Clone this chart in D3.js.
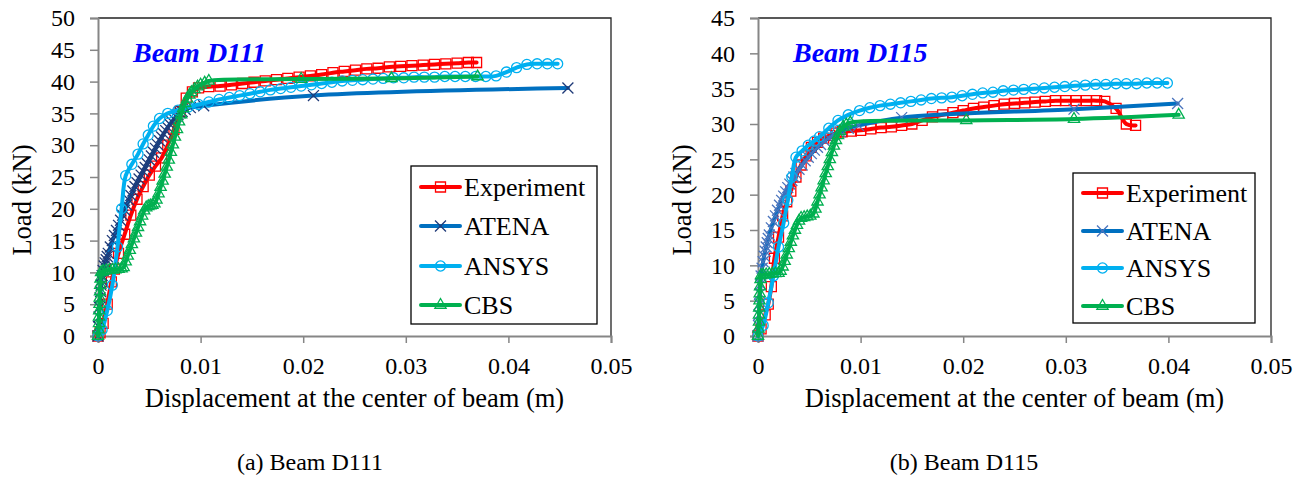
<!DOCTYPE html>
<html>
<head>
<meta charset="utf-8">
<title>Load - displacement of beams D111 and D115</title>
<script src="https://cdn.jsdelivr.net/npm/d3@7"></script>
<style>
  body { margin: 0; background: #fff; }
  text { font-family: "Liberation Serif", "Times New Roman", serif; fill: #000; }
</style>
</head>
<body>
<div id="container"></div>
<script>
// ---- data: [displacement (m), load (kN)] ----
const seriesNames = ["Experiment", "ATENA", "ANSYS", "CBS"];
const xTicks = [0, 0.01, 0.02, 0.03, 0.04, 0.05];
const yTicksD111 = [0, 5, 10, 15, 20, 25, 30, 35, 40, 45, 50];
const yTicksD115 = [0, 5, 10, 15, 20, 25, 30, 35, 40, 45];

const d111Experiment = [[0,0],[0.0002,0.5],[0.0005,2],[0.0009,5],[0.0013,8.5],[0.0016,10.5],[0.002,13],[0.0026,16],[0.0032,19],[0.0038,21.5],[0.0044,23.5],[0.005,25.3],[0.0056,26.7],[0.0062,28],[0.0068,30],[0.0074,32.5],[0.008,35.3],[0.0086,37.4],[0.0092,38.4],[0.0098,39],[0.0108,39.2],[0.0119,39.3],[0.013,39.5],[0.0141,39.7],[0.0152,39.9],[0.0163,40.1],[0.0174,40.3],[0.0185,40.5],[0.0196,40.7],[0.0207,40.9],[0.0218,41.1],[0.0229,41.4],[0.024,41.6],[0.0251,41.8],[0.0262,42],[0.0273,42.1],[0.0284,42.3],[0.0295,42.4],[0.0306,42.5],[0.0317,42.6],[0.0328,42.7],[0.0339,42.8],[0.035,42.9],[0.0361,43],[0.0369,43]];
const d111Atena = [[0,0],[0.00005,1.5],[0.0001,3],[0.00015,4.5],[0.0002,6],[0.00025,7],[0.0003,8],[0.00035,8.8],[0.0004,9.5],[0.0005,10.3],[0.0006,11],[0.0007,11.5],[0.0008,12],[0.0009,12.5],[0.001,13],[0.0012,14],[0.0014,15],[0.0016,15.8],[0.0018,16.6],[0.002,17.4],[0.0022,18.2],[0.0024,19],[0.0026,19.8],[0.0028,20.6],[0.003,21.4],[0.0032,22.1],[0.0034,22.8],[0.0036,23.5],[0.0038,24.1],[0.004,24.7],[0.0042,25.3],[0.0044,25.9],[0.0046,26.5],[0.0048,27.1],[0.005,27.7],[0.0052,28.3],[0.0054,28.9],[0.0056,29.5],[0.0058,30.1],[0.006,30.7],[0.0062,31.3],[0.0064,31.8],[0.0066,32.3],[0.0068,32.8],[0.007,33.3],[0.0072,33.7],[0.0074,34.1],[0.0076,34.5],[0.0078,34.8],[0.008,35.1],[0.0082,35.3],[0.0085,35.6],[0.009,35.9],[0.0103,36.2],[0.021,37.8],[0.0458,39]];
const d111Ansys = [[0,0],[0.0004,1],[0.0009,4],[0.0014,8],[0.0019,14],[0.0023,20],[0.0027,25.2],[0.0033,27],[0.0039,28.6],[0.0044,30.2],[0.0049,31.6],[0.0054,33],[0.006,34.2],[0.0068,35],[0.0078,35.5],[0.0088,36],[0.0098,36.4],[0.0108,36.8],[0.0118,37.2],[0.0128,37.5],[0.0138,37.8],[0.0148,38.1],[0.0158,38.4],[0.0168,38.7],[0.0178,38.9],[0.0188,39.1],[0.0198,39.3],[0.0208,39.5],[0.0218,39.7],[0.0228,39.9],[0.0238,40.1],[0.0248,40.2],[0.0258,40.3],[0.0268,40.4],[0.0278,40.5],[0.0288,40.6],[0.0298,40.6],[0.0308,40.7],[0.0318,40.7],[0.0328,40.7],[0.0338,40.8],[0.0348,40.8],[0.0358,40.8],[0.0368,40.8],[0.0378,40.8],[0.0388,40.9],[0.0398,41.5],[0.0408,42.2],[0.0418,42.7],[0.0428,42.8],[0.0438,42.8],[0.0448,42.8]];
const d111Cbs = [[0,0],[0.00005,1],[0.0001,2],[0.0001,3],[0.00012,4],[0.00015,5],[0.00017,6],[0.0002,7],[0.00022,8],[0.00025,9],[0.0003,10],[0.0005,10.2],[0.0008,10.3],[0.0011,10.35],[0.0014,10.4],[0.0017,10.45],[0.002,10.5],[0.0023,10.6],[0.0025,10.8],[0.0027,11.7],[0.0029,12.6],[0.0031,13.5],[0.0033,14.4],[0.0035,15.3],[0.0037,16.2],[0.0039,17.1],[0.0041,18],[0.0043,18.9],[0.0045,19.7],[0.0047,20.2],[0.0049,20.4],[0.0051,20.5],[0.0053,20.6],[0.0055,20.8],[0.0057,21.4],[0.0059,22.4],[0.0061,23.4],[0.0063,24.4],[0.0065,25.5],[0.0067,26.6],[0.0069,27.7],[0.0071,28.9],[0.0073,30.1],[0.0075,31.3],[0.0077,32.5],[0.0079,33.7],[0.0081,34.8],[0.0083,35.8],[0.0085,36.6],[0.0087,37.3],[0.0089,37.9],[0.0091,38.3],[0.0094,38.8],[0.0097,39.2],[0.01,39.5],[0.0104,39.8],[0.0108,40.1],[0.0198,40.4],[0.0286,40.5],[0.037,40.8]];

const d115Experiment = [[0,0],[0.0003,1],[0.0007,3],[0.001,4.5],[0.0013,7],[0.0016,11],[0.002,14],[0.0024,17],[0.0028,19],[0.0032,20.5],[0.0037,22.5],[0.0042,24.2],[0.0047,25.5],[0.0052,26.7],[0.0058,27.4],[0.0064,28],[0.007,28.4],[0.0076,28.7],[0.0082,28.9],[0.0091,29],[0.01,29.1],[0.011,29.3],[0.012,29.5],[0.013,29.6],[0.014,29.8],[0.015,30],[0.016,30.5],[0.017,31],[0.018,31.3],[0.019,31.6],[0.02,31.9],[0.021,32.2],[0.022,32.4],[0.023,32.6],[0.024,32.8],[0.025,32.9],[0.026,33],[0.027,33.1],[0.028,33.2],[0.029,33.3],[0.03,33.3],[0.031,33.3],[0.032,33.3],[0.033,33.3],[0.0338,33.2],[0.0349,32.2],[0.0359,30],[0.0368,29.8]];
const d115Atena = [[0,0],[0.00005,1.5],[0.0001,3],[0.00015,4.5],[0.0002,6],[0.00025,7.3],[0.0003,8.5],[0.0004,9.6],[0.0005,10.5],[0.0006,11.3],[0.0007,12],[0.0008,12.6],[0.0009,13.2],[0.001,13.8],[0.0011,14.3],[0.0013,15.3],[0.0015,16.2],[0.0017,17],[0.0019,17.8],[0.0021,18.5],[0.0023,19.2],[0.0025,19.8],[0.0027,20.4],[0.0029,21],[0.0031,21.5],[0.0033,22],[0.0035,22.5],[0.0037,23],[0.004,23.6],[0.0043,24.2],[0.0046,24.8],[0.0049,25.3],[0.0052,25.8],[0.0055,26.3],[0.0058,26.7],[0.0061,27.1],[0.0065,27.6],[0.0069,28],[0.0074,28.5],[0.008,28.9],[0.0088,29.4],[0.0098,29.8],[0.014,30.9],[0.0308,32.1],[0.0409,32.9]];
const d115Ansys = [[0,0],[0.0005,1.5],[0.001,4.7],[0.0015,8.5],[0.002,12.6],[0.0025,16],[0.0029,19.2],[0.0033,22.5],[0.0037,25.3],[0.0043,26.2],[0.0049,27],[0.0055,27.6],[0.006,28.2],[0.0069,29.4],[0.0078,30.5],[0.0088,31.3],[0.0099,31.9],[0.0109,32.3],[0.0119,32.6],[0.0129,32.8],[0.0139,33],[0.0149,33.2],[0.0159,33.4],[0.0169,33.6],[0.0179,33.7],[0.0189,33.8],[0.0199,34],[0.0209,34.2],[0.0219,34.4],[0.0229,34.5],[0.0239,34.7],[0.0249,34.8],[0.0259,34.9],[0.0269,35],[0.0279,35.1],[0.0289,35.2],[0.0299,35.3],[0.0309,35.4],[0.0319,35.5],[0.0329,35.6],[0.0339,35.6],[0.0349,35.7],[0.0359,35.7],[0.0369,35.7],[0.0379,35.8],[0.0389,35.8],[0.0399,35.8]];
const d115Cbs = [[0,0],[0.00005,1],[0.0001,2],[0.0001,3],[0.00012,4],[0.00015,5],[0.00017,6],[0.0002,7],[0.00025,8],[0.0003,8.6],[0.0005,8.65],[0.0008,8.7],[0.0011,8.75],[0.0014,8.8],[0.0017,8.85],[0.002,8.9],[0.0022,9.2],[0.0024,9.8],[0.0026,10.6],[0.0028,11.5],[0.003,12.4],[0.0032,13.3],[0.0034,14.2],[0.0036,15],[0.0038,15.7],[0.004,16.3],[0.0042,16.7],[0.0045,16.8],[0.0048,16.9],[0.0051,17],[0.0054,17.3],[0.0056,18],[0.0058,19],[0.006,20],[0.0062,21],[0.0064,22],[0.0066,23],[0.0068,24],[0.007,25],[0.0072,26],[0.0074,26.9],[0.0076,27.7],[0.0078,28.4],[0.008,29],[0.0083,29.6],[0.0086,29.9],[0.009,30.2],[0.0203,30.5],[0.0308,30.7],[0.041,31.3]];

const width = 1313, height = 480;
const plotTop = 18, plotBottom = 336;
const font = '"Liberation Serif", "Times New Roman", serif';

const svg = d3.select("#container")
    .append("svg")
    .attr("width", width)
    .attr("height", height)
    .attr("font-family", font);

// series look: line colour, marker colour, marker shape
const styles = [
    {line: "#ff0000", mark: "#ff0000", shape: d3.symbolSquare, size: 100},
    {line: "#0070c0", mark: "#1f3a78", shape: d3.symbolTimes, size: 80},
    {line: "#00b0f0", mark: "#00b0f0", shape: d3.symbolCircle, size: 80},
    {line: "#00b050", mark: "#00b050", shape: d3.symbolTriangle, size: 55}
];

const panels = [
    {left: 98, right: 611, yTicks: yTicksD111, data: [d111Experiment, d111Atena, d111Ansys, d111Cbs],
     label: "Beam D111", caption: "(a) Beam D111", captionX: 310, atenaMark: "#1f3a78",
     legend: {x: 411, y: 166, w: 186, h: 158, rows: [187, 226, 266, 305]}},
    {left: 758, right: 1271, yTicks: yTicksD115, data: [d115Experiment, d115Atena, d115Ansys, d115Cbs],
     label: "Beam D115", caption: "(b) Beam D115", captionX: 964, atenaMark: "#4a74bd",
     legend: {x: 1073, y: 173, w: 182, h: 150, rows: [193, 231, 268, 306]}}
];

panels.forEach(p => {
    const x = d3.scaleLinear().domain([0, 0.05]).range([p.left, p.right]);
    const y = d3.scaleLinear().domain([0, d3.max(p.yTicks)]).range([plotBottom, plotTop]);
    const g = svg.append("g");

    // frame: thin dark top/right, grey axes
    g.append("path")
        .attr("d", `M${x(0)},${y.range()[1]}H${x(0.05)}V${plotBottom}`)
        .attr("fill", "none").attr("stroke", "#222").attr("stroke-width", 1.3);

    const yAxis = g.append("g")
        .attr("transform", `translate(${x(0)},0)`)
        .call(d3.axisLeft(y).tickValues(p.yTicks).tickSize(8).tickPadding(15).tickFormat(d3.format("d")));
    const xAxis = g.append("g")
        .attr("transform", `translate(0,${plotBottom})`)
        .call(d3.axisBottom(x).tickValues(xTicks).tickSize(7).tickPadding(14)
            .tickFormat(d => d === 0 ? "0" : d3.format(".2f")(d)));
    [yAxis, xAxis].forEach(a => {
        a.attr("font-family", font).attr("font-size", 24);
        a.select(".domain").attr("stroke", "#868686").attr("stroke-width", 2);
        a.selectAll(".tick line").attr("stroke", "#868686").attr("stroke-width", 1.5);
        a.selectAll("text").attr("fill", "#000");
    });

    const line = d3.line()
        .x(d => x(d[0]))
        .y(d => y(d[1]))
        .curve(d3.curveCatmullRom.alpha(0.5));

    p.data.forEach((series, i) => {
        const st = styles[i];
        const markColour = i === 1 ? p.atenaMark : st.mark;
        const sg = g.append("g");
        sg.append("path")
            .datum(series)
            .attr("d", line)
            .attr("fill", "none")
            .attr("stroke", st.line)
            .attr("stroke-width", 4)
            .attr("stroke-linejoin", "round")
            .attr("stroke-linecap", "round");
        sg.selectAll("path.mark")
            .data(series)
            .join("path")
            .attr("class", "mark")
            .attr("transform", d => `translate(${x(d[0])},${y(d[1])})`)
            .attr("d", d3.symbol().type(st.shape).size(st.size))
            .attr("fill", "none")
            .attr("stroke", markColour)
            .attr("stroke-width", 1.3);
    });

    // beam label inside the plot
    g.append("text")
        .attr("x", p.left + 35)
        .attr("y", 62)
        .attr("font-family", font)
        .attr("font-size", 28)
        .attr("font-weight", "bold")
        .attr("font-style", "italic")
        .style("fill", "#0000ff")
        .text(p.label);

    // legend
    const lg = g.append("g");
    lg.append("rect")
        .attr("x", p.legend.x).attr("y", p.legend.y)
        .attr("width", p.legend.w).attr("height", p.legend.h)
        .attr("fill", "#fff").attr("stroke", "#000").attr("stroke-width", 1.3);
    seriesNames.forEach((name, i) => {
        const st = styles[i];
        const cy = p.legend.rows[i];
        const lx = p.legend.x + 10;
        lg.append("line")
            .attr("x1", lx).attr("x2", lx + 39)
            .attr("y1", cy).attr("y2", cy)
            .attr("stroke", st.line).attr("stroke-width", 4).attr("stroke-linecap", "round");
        lg.append("path")
            .attr("transform", `translate(${lx + 19.5},${cy})`)
            .attr("d", d3.symbol().type(st.shape).size(st.size))
            .attr("fill", "none")
            .attr("stroke", i === 1 ? p.atenaMark : st.mark)
            .attr("stroke-width", 1.3);
        lg.append("text")
            .attr("x", lx + 43)
            .attr("y", cy + 9)
            .attr("font-size", 26)
            .text(name);
    });

    // axis titles
    g.append("text")
        .attr("transform", `translate(${p.left - 67},200) rotate(-90)`)
        .attr("text-anchor", "middle")
        .attr("font-size", 26.5)
        .text("Load (kN)");
    g.append("text")
        .attr("x", (p.left + p.right) / 2)
        .attr("y", 407)
        .attr("text-anchor", "middle")
        .attr("font-size", 26.5)
        .text("Displacement at the center of beam (m)");

    // caption under the chart
    g.append("text")
        .attr("x", p.captionX)
        .attr("y", 470)
        .attr("text-anchor", "middle")
        .attr("font-size", 24)
        .text(p.caption);
});
</script>
</body>
</html>
